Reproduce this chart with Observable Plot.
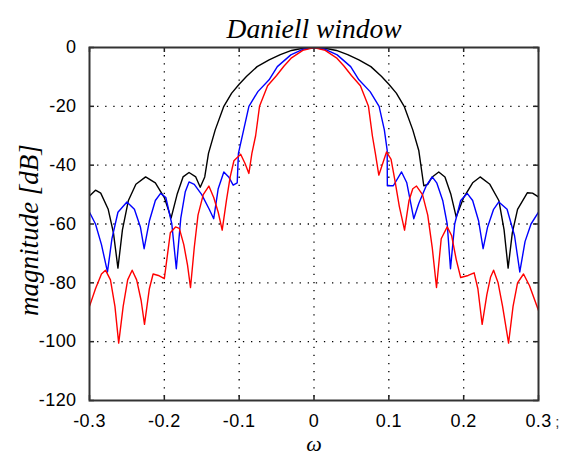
<!DOCTYPE html>
<html>
<head>
<meta charset="utf-8">
<script src="https://cdn.jsdelivr.net/npm/d3@7"></script>
<script src="https://cdn.jsdelivr.net/npm/@observablehq/plot@0.6"></script>
<style>
  html, body { margin: 0; padding: 0; background: #fff; }
  #chart svg { display: block; }
  #chart svg g[aria-label="x-axis tick label"] text,
  #chart svg g[aria-label="y-axis tick label"] text { letter-spacing: 0.4px; }
</style>
</head>
<body>
<div id="chart"></div>
<script>
const titleText = "Daniell window";
const xLabel = "ω";
const yLabel = "magnitude [dB]";
const xTicks = [-0.3, -0.2, -0.1, 0, 0.1, 0.2, 0.3];
const yTicks = [0, -20, -40, -60, -80, -100, -120];

const blackW = [-0.300,-0.292,-0.285,-0.275,-0.268,-0.262,-0.256,-0.248,-0.238,-0.225,-0.212,-0.200,-0.191,-0.183,-0.175,-0.167,-0.158,-0.152,-0.146,-0.141,-0.132,-0.1205,-0.110,-0.100,-0.090,-0.076,-0.060,-0.045,-0.030,-0.015,0,
  0.015,0.030,0.045,0.060,0.076,0.090,0.100,0.110,0.1205,0.132,0.140,0.1467,0.152,0.158,0.1667,0.175,0.183,0.190,0.200,0.212,0.222,0.235,0.247,0.254,0.2594,0.265,0.272,0.285,0.292,0.300];
const blackDb = [-50.5,-48.5,-49.5,-55,-63,-75,-62,-52,-46.5,-44,-46,-51,-58,-50,-44,-42.5,-44,-47.5,-44,-36,-28,-20,-15.5,-12.5,-9.8,-6.5,-4.2,-2.4,-1.0,-0.25,0,
  -0.25,-1.0,-2.4,-4.2,-6.5,-9.8,-12.5,-15.5,-20,-28,-35,-47,-46.5,-44,-42.3,-44,-50,-57.6,-51,-46,-44,-46.5,-52,-62,-75,-63,-55,-49.4,-49.5,-50.8];

const blueW = [-0.300,-0.292,-0.284,-0.276,-0.270,-0.262,-0.250,-0.240,-0.232,-0.227,-0.220,-0.212,-0.205,-0.198,-0.190,-0.184,-0.178,-0.172,-0.167,-0.160,-0.150,-0.140,-0.134,-0.128,-0.1205,-0.114,-0.108,-0.1026,-0.101,-0.094,-0.087,-0.075,-0.060,-0.049,-0.031,-0.015,0,
  0.015,0.031,0.049,0.060,0.075,0.087,0.094,0.0978,0.098,0.106,0.117,0.124,0.1333,0.140,0.150,0.158,0.164,0.172,0.178,0.1824,0.188,0.196,0.2047,0.212,0.220,0.226,0.232,0.240,0.247,0.258,0.268,0.275,0.282,0.290,0.300];
const blueDb = [-56,-60,-67,-76.3,-65,-56,-52.5,-55,-61,-68.4,-59,-52,-49.6,-51,-60,-75.2,-58,-49,-45.7,-46.5,-50,-55,-58.2,-48,-42.3,-44,-46.8,-46,-36,-28,-20,-15,-11,-6.5,-2.5,-0.6,0,
  -0.6,-2.5,-6.5,-11,-15,-20,-28,-35,-47,-47,-42.3,-46,-58.2,-53,-47,-44,-46,-52,-60,-75.2,-60,-52,-49.6,-52,-59,-68.4,-61,-55,-52.5,-55,-64,-76.3,-66,-60,-56];

const redW = [-0.300,-0.292,-0.284,-0.2786,-0.272,-0.266,-0.261,-0.255,-0.249,-0.243,-0.237,-0.231,-0.2265,-0.220,-0.215,-0.208,-0.200,-0.192,-0.185,-0.180,-0.174,-0.169,-0.165,-0.160,-0.155,-0.148,-0.1405,-0.134,-0.128,-0.1227,-0.117,-0.112,-0.107,-0.098,-0.092,-0.087,-0.083,-0.078,-0.0728,-0.062,-0.050,-0.040,-0.030,-0.015,0,
  0.015,0.030,0.040,0.050,0.062,0.0728,0.078,0.082,0.0866,0.0969,0.103,0.108,0.114,0.121,0.127,0.132,0.137,0.145,0.152,0.158,0.1637,0.170,0.178,0.184,0.190,0.196,0.206,0.214,0.219,0.2247,0.231,0.236,0.240,0.246,0.252,0.260,0.266,0.272,0.280,0.288,0.300];
const redDb = [-88,-82,-77,-75.7,-79,-88,-100.5,-88,-79,-75.7,-79,-86,-94.1,-82,-77,-77.5,-78.6,-63,-61,-61.5,-67,-74,-81.6,-68,-57,-50,-47.1,-51,-56,-62.1,-52,-44,-38.5,-36.3,-39.5,-42.8,-36,-30,-20,-13,-9.5,-6.3,-3.5,-1,0,
  -1,-3.5,-6.3,-9.5,-13,-20,-30,-36,-43.4,-35.5,-38,-45,-54,-62.1,-52,-48,-47.1,-50,-57,-68,-81.6,-65,-61,-64,-72,-78.2,-77.5,-76.6,-82,-94.1,-84,-78,-75.7,-80,-88,-100.5,-88,-80,-77,-81,-89.4];

const toRows = (ws, ds) => ws.map((w, i) => ({w, db: ds[i]}));
const black = toRows(blackW, blackDb);
const blue = toRows(blueW, blueDb);
const red = toRows(redW, redDb);

const gridX = xTicks.filter(v => v !== -0.3 && v !== 0.3);
const gridY = yTicks.filter(v => v !== 0 && v !== -120);
const tickLenX = 0.0067;   // inward tick length in ω units
const tickLenY = 1.7;      // inward tick length in dB units

const serif = "'Liberation Serif', 'Times New Roman', serif";

const chart = Plot.plot({
  width: 567,
  height: 457,
  marginLeft: 89,
  marginRight: 29,
  marginTop: 47,
  marginBottom: 57,
  style: {fontFamily: "'Liberation Sans', Arial, sans-serif", fontSize: "18px", color: "#000", background: "#fff"},
  x: {domain: [-0.3, 0.3]},
  y: {domain: [-120, 0]},
  marks: [
    Plot.ruleX(gridX, {stroke: "#000", strokeWidth: 1.3, strokeDasharray: "1.3,6.8"}),
    Plot.ruleY(gridY, {stroke: "#000", strokeWidth: 1.3, strokeDasharray: "1.3,6.8"}),
    Plot.ruleX(xTicks, {y1: -120, y2: -120 + tickLenY, stroke: "#222", strokeWidth: 1.5}),
    Plot.ruleX(xTicks, {y1: 0, y2: -tickLenY, stroke: "#222", strokeWidth: 1.5}),
    Plot.ruleY(yTicks, {x1: -0.3, x2: -0.3 + tickLenX, stroke: "#222", strokeWidth: 1.5}),
    Plot.ruleY(yTicks, {x1: 0.3, x2: 0.3 - tickLenX, stroke: "#222", strokeWidth: 1.5}),
    Plot.line(black, {x: "w", y: "db", stroke: "#000", strokeWidth: 1.4, clip: true}),
    Plot.line(blue, {x: "w", y: "db", stroke: "#0000ff", strokeWidth: 1.4, clip: true}),
    Plot.line(red, {x: "w", y: "db", stroke: "#ff0000", strokeWidth: 1.4, clip: true}),
    Plot.frame({stroke: "#333", strokeWidth: 2}),
    Plot.axisX({ticks: xTicks, tickSize: 0, tickPadding: 14, tickFormat: d => String(d), label: null, fontSize: 18}),
    Plot.axisY({ticks: yTicks, tickSize: 0, tickPadding: 13, tickFormat: d => String(d), label: null, fontSize: 18}),
    Plot.text([titleText], {frameAnchor: "top", dy: -10, lineAnchor: "bottom", fontSize: 27.5, fontStyle: "italic", fontFamily: serif, fill: "#000"}),
    Plot.text([xLabel], {frameAnchor: "bottom", dy: 43, lineAnchor: "middle", fontSize: 22, fontStyle: "italic", fontFamily: serif, fill: "#000"}),
    Plot.text([yLabel], {frameAnchor: "left", textAnchor: "middle", dx: -60, dy: 6, rotate: -90, lineAnchor: "middle", fontSize: 27, fontStyle: "italic", fontFamily: serif, fill: "#000"}),
    Plot.text([";"], {frameAnchor: "bottom-right", dx: 21, dy: 22, lineAnchor: "middle", fontSize: 15, fill: "#333"})
  ]
});
document.getElementById("chart").appendChild(chart);
</script>
</body>
</html>
